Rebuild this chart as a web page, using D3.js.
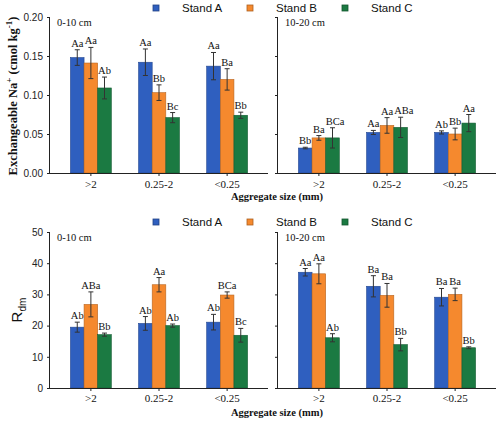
<!DOCTYPE html>
<html><head><meta charset="utf-8">
<script src="https://cdn.jsdelivr.net/npm/d3@7"></script>
<style>body{margin:0;background:#fff}</style>
</head><body>
<svg id="c" width="500" height="421"></svg>
<script>
const categories = [">2", "0.25-2", "<0.25"];
const stands = ["Stand A", "Stand B", "Stand C"];
const colors = ["#2f5fbf", "#f5892e", "#1b7a42"];

// Exchangeable Na+ 0-10 cm  [category][stand]
const naTop010 = [[0.148, 0.141, 0.109], [0.142, 0.103, 0.071], [0.137, 0.120, 0.074]];
const naErr010 = [[0.010, 0.020, 0.014], [0.017, 0.010, 0.0065], [0.0175, 0.0137, 0.004]];
const naLab010 = [["Aa", "Aa", "Ab"], ["Aa", "Bb", "Bc"], ["Aa", "Ba", "Bb"]];
// Exchangeable Na+ 10-20 cm
const naTop1020 = [[0.032, 0.045, 0.045], [0.052, 0.061, 0.0585], [0.052, 0.050, 0.064]];
const naErr1020 = [[0.001, 0.003, 0.013], [0.0026, 0.010, 0.013], [0.002, 0.0075, 0.011]];
const naLab1020 = [["Bb", "Ba", "BCa"], ["Aa", "Aa", "ABa"], ["Ab", "Bb", "Aa"]];
// Rdm 0-10 cm
const rTop010 = [[19.5, 26.8, 17.1], [20.7, 33.1, 20.0], [21.1, 29.8, 16.9]];
const rErr010 = [[1.6, 4.0, 0.5], [2.2, 2.3, 0.5], [2.5, 1.0, 2.2]];
const rLab010 = [["Ab", "ABa", "Bb"], ["Ab", "Aa", "Ab"], ["Ab", "BCa", "Bc"]];
// Rdm 10-20 cm
const rTop1020 = [[37.1, 36.6, 16.1], [32.6, 29.7, 13.9], [29.1, 30.0, 12.9]];
const rErr1020 = [[1.2, 3.2, 1.3], [3.4, 3.8, 2.0], [2.8, 2.0, 0.3]];
const rLab1020 = [["Aa", "Aa", "Ab"], ["Ba", "Ba", "Bb"], ["Ba", "Ba", "Bb"]];

const naTicks = [0, 0.05, 0.10, 0.15, 0.20];
const rTicks = [0, 10, 20, 30, 40, 50];
const depthLabels = ["0-10 cm", "10-20 cm"];
const xTitle = "Aggregate size (mm)";

const svg = d3.select("#c");
const serif = "'Liberation Serif','Times New Roman',serif";
const sans = "'Liberation Sans',Arial,sans-serif";

function legend(y) {
  const xs = [153, 247, 342];
  stands.forEach((s, i) => {
    svg.append("rect").attr("x", xs[i]).attr("y", y - 3).attr("width", 6).attr("height", 6)
      .attr("fill", colors[i]).attr("stroke", d3.color(colors[i]).darker(1)).attr("stroke-width", 0.8);
    svg.append("text").attr("x", xs[i] + 29).attr("y", y + 4).attr("font-family", sans)
      .attr("font-size", 11.5).attr("fill", "#111").text(s);
  });
}

function panel(x0, x1, yScale, ticks, fmt, showLabels, vals, errs, labs, depth, tickY) {
  const x = d3.scaleBand().domain(categories).range([x0, x1]).paddingInner(0.4).paddingOuter(0.3);
  const xs = d3.scaleBand().domain(stands).range([0, x.bandwidth()]);
  const g = svg.append("g");
  categories.forEach((c, ci) => {
    let prev = null;
    stands.forEach((s, si) => {
      const bx = x(c) + xs(s);
      const v = vals[ci][si], e = errs[ci][si];
      g.append("rect").attr("x", bx).attr("y", yScale(v)).attr("width", xs.bandwidth())
        .attr("height", yScale(0) - yScale(v)).attr("fill", colors[si])
        .attr("stroke", d3.color(colors[si]).darker(0.8)).attr("stroke-width", 0.6);
      const cx = bx + xs.bandwidth() / 2;
      g.append("line").attr("x1", cx).attr("x2", cx).attr("y1", yScale(v + e)).attr("y2", yScale(v - e))
        .attr("stroke", "#333").attr("stroke-width", 1);
      [v + e, v - e].forEach(t => g.append("line").attr("x1", cx - 2.5).attr("x2", cx + 2.5)
        .attr("y1", yScale(t)).attr("y2", yScale(t)).attr("stroke", "#333").attr("stroke-width", 1));
      const ty = yScale(v + e) - 3;
      const t = g.append("text").attr("x", cx).attr("y", ty).attr("text-anchor", "middle")
        .attr("font-family", serif).attr("font-size", 10.5).attr("fill", "#111").text(labs[ci][si]);
      // nudge to avoid overlap with previous label
      const w = t.node().getComputedTextLength();
      let left = cx - w / 2;
      if (prev && Math.abs(prev.y - ty) < 10 && left < prev.right + 1) {
        const shift = prev.right + 1 - left;
        t.attr("x", cx + shift);
        left += shift;
      }
      prev = { right: left + w, y: ty };
    });
  });
  const ya = d3.axisLeft(yScale).tickValues(ticks).tickSize(3).tickPadding(4)
    .tickFormat(showLabels ? fmt : () => "");
  const yg = g.append("g").attr("transform", `translate(${x0},0)`).call(ya);
  yg.select(".domain").attr("d", `M-0.5,${yScale.range()[1]}V${yScale(0)}`).attr("stroke", "#222");
  yg.selectAll("text").attr("font-family", sans).attr("font-size", 10).attr("fill", "#222");
  yg.selectAll("line").attr("stroke", "#222");
  const xa = d3.axisBottom(x).tickSize(3).tickPadding(6);
  const xg = g.append("g").attr("transform", `translate(0,${yScale(0)})`).call(xa);
  xg.select(".domain").attr("d", `M${x0},0.5H${x1}`).attr("stroke", "#222");
  xg.selectAll("line").attr("stroke", "#222");
  xg.selectAll("text").attr("font-family", serif).attr("font-size", 11).attr("fill", "#111")
    .attr("dy", null).attr("y", tickY - yScale(0));
  g.append("text").attr("x", x0 + 7).attr("y", yScale.range()[1] + 9).attr("font-family", serif)
    .attr("font-size", 10.5).attr("fill", "#111").text(depth);
}

const yNa = d3.scaleLinear().domain([0, 0.20]).range([173, 17]);
const yR = d3.scaleLinear().domain([0, 50]).range([388, 232]);
const fNa = d3.format(".2f");
const fR = d3.format("d");

legend(8);
panel(50, 268, yNa, naTicks, fNa, true, naTop010, naErr010, naLab010, depthLabels[0], 188);
panel(278, 496, yNa, naTicks, fNa, false, naTop1020, naErr1020, naLab1020, depthLabels[1], 188);
legend(222);
panel(50, 268, yR, rTicks, fR, true, rTop010, rErr010, rLab010, depthLabels[0], 402);
panel(278, 496, yR, rTicks, fR, false, rTop1020, rErr1020, rLab1020, depthLabels[1], 402);

[200, 416].forEach(y => svg.append("text").attr("x", 277).attr("y", y).attr("text-anchor", "middle")
  .attr("font-family", serif).attr("font-weight", "bold").attr("font-size", 10.5).attr("fill", "#111").text(xTitle));

const t1 = svg.append("text").attr("transform", "translate(17,96) rotate(-90)").attr("text-anchor", "middle")
  .attr("font-family", serif).attr("font-weight", "bold").attr("font-size", 12.5).attr("fill", "#111");
t1.append("tspan").text("Exchangeable Na");
t1.append("tspan").attr("dy", -5).attr("font-size", 9).text("+");
t1.append("tspan").attr("dy", 5).text(" (cmol kg");
t1.append("tspan").attr("dy", -5).attr("font-size", 9).text("-1");
t1.append("tspan").attr("dy", 5).text(")");

const t2 = svg.append("text").attr("transform", "translate(22,310) rotate(-90)").attr("text-anchor", "middle")
  .attr("font-family", sans).attr("font-size", 15).attr("fill", "#111");
t2.append("tspan").text("R");
t2.append("tspan").attr("dy", 4).attr("font-size", 10).text("dm");
</script>
</body></html>
